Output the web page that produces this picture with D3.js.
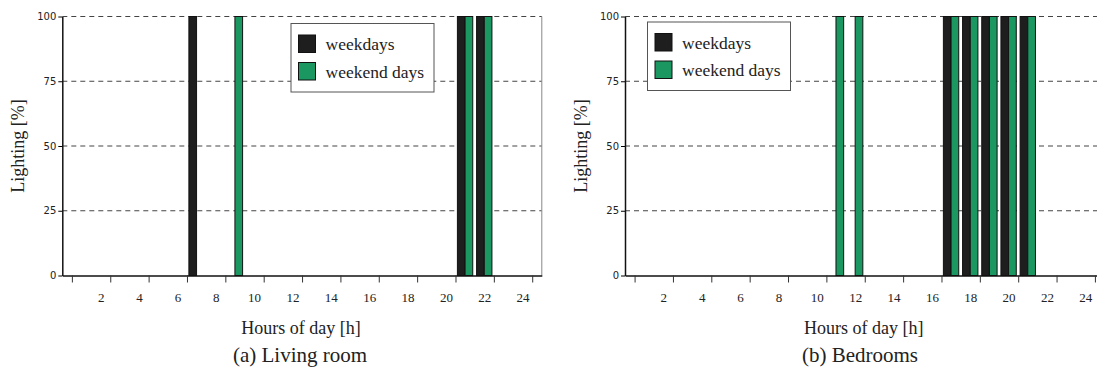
<!DOCTYPE html>
<html>
<head>
<meta charset="utf-8">
<script src="https://cdn.jsdelivr.net/npm/d3@7"></script>
<style>
  html, body { margin: 0; padding: 0; background: #fff; }
  svg { display: block; }
  .serif { font-family: "Liberation Serif", "DejaVu Serif", serif; fill: #222; }
</style>
</head>
<body>
<div id="chart"></div>
<script>
// Hours 1..24, lighting on (100 %) or off (0 %)
const hours = [1, 2, 3, 4, 5, 6, 7, 8, 9, 10, 11, 12, 13, 14, 15, 16, 17, 18, 19, 20, 21, 22, 23, 24];

const livingWeekdays = [0, 0, 0, 0, 0, 0, 100, 0, 0, 0, 0, 0, 0, 0, 0, 0, 0, 0, 0, 0, 100, 100, 0, 0];
const livingWeekend  = [0, 0, 0, 0, 0, 0, 0, 0, 100, 0, 0, 0, 0, 0, 0, 0, 0, 0, 0, 0, 100, 100, 0, 0];

const bedroomWeekdays = [0, 0, 0, 0, 0, 0, 0, 0, 0, 0, 0, 0, 0, 0, 0, 0, 100, 100, 100, 100, 100, 0, 0, 0];
const bedroomWeekend  = [0, 0, 0, 0, 0, 0, 0, 0, 0, 0, 100, 100, 0, 0, 0, 0, 100, 100, 100, 100, 100, 0, 0, 0];

const xTickMarks = [0.5, 2.5, 4.5, 6.5, 8.5, 10.5, 12.5, 14.5, 16.5, 18.5, 20.5, 22.5, 24.5];
const xTickLabels = [2, 4, 6, 8, 10, 12, 14, 16, 18, 20, 22, 24];
const yTicks = [0, 25, 50, 75, 100];
const gridTicks = [25, 50, 75, 100];

const seriesNames = ['weekdays', 'weekend days'];

const COLORS = {
    weekdays: '#1e1e1e',
    weekend: '#1b9862',
    grid: '#444',
    border: '#888'
};

const SERIF = '"Liberation Serif", "DejaVu Serif", serif';

const W = 1097, H = 370;
const svg = d3.select('#chart').append('svg')
    .attr('width', W)
    .attr('height', H);

const BAR_W = 0.4; // in hours

function drawPanel(opts) {
    const x = d3.scaleLinear().domain([0, 25]).range([opts.left, opts.left + 479.5]);
    const y = d3.scaleLinear().domain([0, 100]).range([275.5, 16.5]);
    const g = svg.append('g');

    // dashed grid
    g.selectAll('.grid').data(gridTicks).enter().append('line')
        .attr('x1', x(0)).attr('x2', x(25))
        .attr('y1', d => y(d)).attr('y2', d => y(d))
        .attr('stroke', COLORS.grid)
        .attr('stroke-width', 1)
        .attr('stroke-dasharray', '5,4');

    // right border
    g.append('line')
        .attr('x1', x(25)).attr('x2', x(25))
        .attr('y1', y(0)).attr('y2', y(100))
        .attr('stroke', COLORS.border);

    // bars
    const rows = hours.map((h, i) => ({ h, wd: opts.weekdays[i], we: opts.weekend[i] }));
    g.selectAll('.bar-wd').data(rows).enter().append('rect')
        .attr('x', d => x(d.h - BAR_W))
        .attr('width', d => x(d.h) - x(d.h - BAR_W))
        .attr('y', d => y(d.wd))
        .attr('height', d => y(0) - y(d.wd))
        .attr('fill', COLORS.weekdays)
        .attr('stroke', '#111')
        .attr('stroke-width', 1);
    g.selectAll('.bar-we').data(rows).enter().append('rect')
        .attr('x', d => x(d.h))
        .attr('width', d => x(d.h + BAR_W) - x(d.h))
        .attr('y', d => y(d.we))
        .attr('height', d => y(0) - y(d.we))
        .attr('fill', COLORS.weekend)
        .attr('stroke', '#111')
        .attr('stroke-width', 1);

    // x axis: tick marks and labels are offset from each other as in the original
    const xAxisG = g.append('g').attr('transform', `translate(0,${y(0)})`)
        .call(d3.axisBottom(x).tickValues(xTickMarks).tickFormat('').tickSize(7).tickSizeOuter(0));
    xAxisG.select('.domain').attr('stroke', '#111').attr('stroke-width', 1.5);
    xAxisG.selectAll('.tick line').attr('stroke', '#333');

    const xLabG = g.append('g').attr('transform', `translate(0,${y(0)})`)
        .call(d3.axisBottom(x).tickValues(xTickLabels).tickSize(0).tickPadding(17));
    xLabG.select('.domain').remove();
    xLabG.attr('font-family', null).attr('font-size', null);
    xLabG.selectAll('text')
        .style('font-family', SERIF)
        .style('font-size', '13px')
        .attr('fill', '#222');

    // y axis
    const yAxisG = g.append('g').attr('transform', `translate(${x(0)},0)`)
        .call(d3.axisLeft(y).tickValues(yTicks).tickSize(4).tickSizeOuter(0).tickPadding(2));
    yAxisG.select('.domain').attr('stroke', '#111').attr('stroke-width', 1.5);
    yAxisG.selectAll('text')
        .style('font-family', '"DejaVu Sans", sans-serif')
        .style('font-size', '10px')
        .attr('fill', '#222');

    // titles
    g.append('text').attr('class', 'serif')
        .attr('x', x(12.5) - 1).attr('y', 334)
        .attr('text-anchor', 'middle')
        .style('font-size', '18px')
        .text('Hours of day [h]');
    g.append('text').attr('class', 'serif')
        .attr('x', opts.captionX).attr('y', 362)
        .attr('text-anchor', 'middle')
        .style('font-size', '21px')
        .text(opts.caption);
    g.append('text').attr('class', 'serif')
        .attr('transform', `translate(${opts.left - 38},${y(50)}) rotate(-90)`)
        .attr('text-anchor', 'middle')
        .style('font-size', '18px')
        .text('Lighting [%]');

    // legend
    const lg = g.append('g').attr('transform', `translate(${opts.legendX},${opts.legendY})`);
    lg.append('rect')
        .attr('width', 143).attr('height', 68.5)
        .attr('fill', '#fff')
        .attr('stroke', '#555');
    [COLORS.weekdays, COLORS.weekend].forEach((c, i) => {
        lg.append('rect')
            .attr('x', 7.5).attr('y', 11.5 + i * 27.5)
            .attr('width', 17).attr('height', 17.5)
            .attr('fill', c).attr('stroke', '#111');
        lg.append('text').attr('class', 'serif')
            .attr('x', 34.5).attr('y', 20.5 + i * 27.5)
            .attr('dy', '0.35em')
            .style('font-size', '17.5px')
            .text(seriesNames[i]);
    });
}

drawPanel({
    left: 62.3,
    weekdays: livingWeekdays,
    weekend: livingWeekend,
    caption: '(a) Living room',
    captionX: 300,
    legendX: 291, legendY: 23.5
});

drawPanel({
    left: 625,
    weekdays: bedroomWeekdays,
    weekend: bedroomWeekend,
    caption: '(b) Bedrooms',
    captionX: 860,
    legendX: 647.5, legendY: 22
});
</script>
</body>
</html>
